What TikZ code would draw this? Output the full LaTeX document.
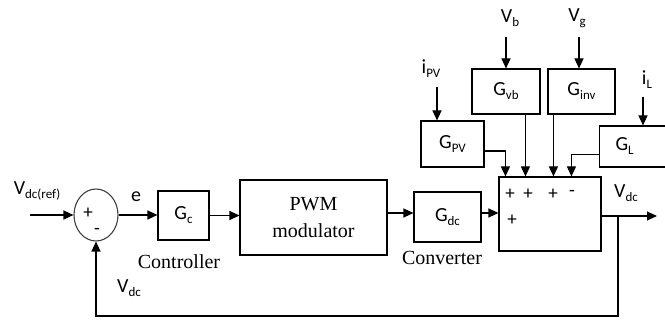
\documentclass[tikz,border=0pt]{standalone}
\usepackage{fontspec}
\setmainfont{Liberation Serif}
\newfontfamily\labfont{Carlito}
\usetikzlibrary{arrows.meta,shapes.geometric}
\newcommand\sbs[1]{\raisebox{-4pt}{\fontsize{13}{13}\selectfont #1}}
\begin{document}
\begin{tikzpicture}[x=1pt,y=-1pt, line width=1.1pt,
  arr/.style={-{Triangle[length=10pt,width=9pt]}},
  blk/.style={draw, inner sep=0pt, font=\labfont\fontsize{20}{24}\selectfont},
  lab/.style={inner sep=0pt, font=\labfont\fontsize{20}{24}\selectfont},
  ser/.style={inner sep=0pt, align=center, font=\fontsize{20}{27}\selectfont},
  sgn/.style={inner sep=0pt, font=\labfont\fontsize{19}{22}\selectfont}]
\clip (0,0) rectangle (665,320);
% summing junction
\node[draw=black!75, shape=ellipse, minimum width=44pt, minimum height=52pt, inner sep=0pt] (sum) at (96,215) {};
\node[sgn] (splus) at (88,213) {+};
\node[sgn] (sminus) at (97,231) {-};
% blocks
\node[blk, minimum width=51pt, minimum height=49pt] (gc) at (183.5,215.5) {G\sbs{c}};
\node[ser, draw, minimum width=147pt, minimum height=75pt, inner sep=0pt] (pwm) at (313.5,217.5) {PWM\\modulator};
\node[blk, minimum width=67pt, minimum height=50pt] (gdc) at (447.5,217) {G\sbs{dc}};
\node[draw, minimum width=102pt, minimum height=74pt, inner sep=0pt] (sb) at (550,214) {};
\node[blk, minimum width=63pt, minimum height=46pt] (gpv) at (452.5,144) {G\sbs{PV}};
\node[blk, minimum width=68pt, minimum height=45pt] (gvb) at (506,91.5) {G\sbs{vb}};
\node[blk, minimum width=67pt, minimum height=45pt] (ginv) at (581.5,91.5) {G\sbs{inv}};
\node[blk, anchor=west, minimum height=41pt, inner xsep=16pt, text width=50pt, align=left] (gl) at (599,146.5) {G\sbs{L}};
% signs in the summing box
\node[sgn] (p1) at (510,194) {+};
\node[sgn] (p2) at (528,194) {+};
\node[sgn] (p3) at (553,194) {+};
\node[sgn] (m4) at (572,193) {-};
\node[sgn] (p5) at (512,220) {+};
% labels
\node[lab] (lref) at (37,191) {V\sbs{dc(ref)}};
\node[lab] (le) at (136,197) {e};
\node[ser] (lctrl) at (179,262) {Controller};
\node[ser] (lconv) at (442,258) {Converter};
\node[lab] (lvdc1) at (626,193) {V\sbs{dc}};
\node[lab] (lvdc2) at (129,288) {V\sbs{dc}};
\node[lab] (lipv) at (431,69) {i\sbs{PV}};
\node[lab] (lvb) at (510,18) {V\sbs{b}};
\node[lab] (lvg) at (577,18) {V\sbs{g}};
\node[lab] (lil) at (647,80) {i\sbs{L}};
% coordinates
\coordinate (vin) at (30,215);
\coordinate (ipvs) at (437,87);
\coordinate (vbs) at (506,37);
\coordinate (vgs) at (579,37);
\coordinate (ils) at (643,97);
\coordinate (in1) at ([xshift=7pt]sb.north west);
\coordinate (in2) at ([xshift=27pt]sb.north west);
\coordinate (in3) at ([xshift=55pt]sb.north west);
\coordinate (in4) at ([xshift=73pt]sb.north west);
\coordinate (outp) at (657,216);
\coordinate (br) at (618,216);
\coordinate (fb) at (618,316);
% connectors
\draw[arr] (vin) -- (sum.west);
\draw[arr] (sum.east) -- (sum.east -| gc.west);
\draw[arr] (gc.east) -- (gc.east -| pwm.west);
\draw[arr] ([yshift=4pt]gdc.west -| pwm.east) -- ([yshift=4pt]gdc.west);
\draw[arr] ([yshift=4pt]gdc.east) -- ([yshift=4pt]gdc.east -| sb.west);
\draw[arr] (sb.east |- outp) -- (outp);
\draw[arr] (br) -- (fb) -| (sum.south);
\draw[arr] (ipvs) -- (ipvs |- gpv.north);
\draw[arr] (vbs) -- (gvb.north);
\draw[arr] (vgs) -- (vgs |- ginv.north);
\draw[arr] (ils) -- (ils |- gl.north);
\draw[arr] ([yshift=-7pt]gpv.east) -| (in1);
\draw[arr] (in2 |- gvb.south) -- (in2);
\draw[arr] (in3 |- ginv.south) -- (in3);
\draw[arr] ([yshift=-8pt]gl.west) -| (in4);
\end{tikzpicture}
\end{document}
